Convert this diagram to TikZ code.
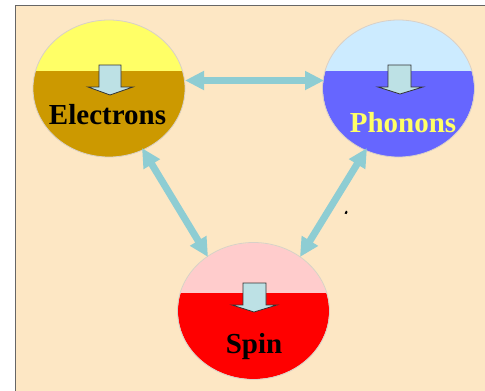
\documentclass[tikz,border=0pt]{standalone}
\usepackage{fontspec}
\setmainfont{Liberation Serif}
\usetikzlibrary{arrows.meta,shapes.geometric}
\definecolor{bg}{HTML}{FDE7C4}
\definecolor{frame}{HTML}{666666}
\definecolor{etop}{HTML}{FFFF66}
\definecolor{ebot}{HTML}{CC9900}
\definecolor{ptop}{HTML}{CCEBFF}
\definecolor{pbot}{HTML}{6666FF}
\definecolor{stop}{HTML}{FFCCCC}
\definecolor{sbot}{HTML}{FF0000}
\definecolor{linkc}{HTML}{8ECDD3}
\definecolor{downfill}{HTML}{BDE1E5}
\definecolor{rimc}{HTML}{D8D0C8}
\definecolor{phtext}{HTML}{FFFF66}
\begin{document}
\begin{tikzpicture}[x=1pt,y=-1pt,
  ball/.style={ellipse, draw=rimc, line width=0.8pt, minimum width=152pt, minimum height=137pt, inner sep=0pt},
  label/.style={font=\bfseries\fontsize{29}{29}\selectfont, anchor=base, inner sep=0pt},
  link/.style={draw=linkc, line width=7pt, {Triangle[width=18pt,length=19pt]}-{Triangle[width=18pt,length=19pt]}},
  downarrow/.style={fill=downfill, draw=black!80, line width=0.8pt, line join=miter}]
\useasboundingbox (0,0) rectangle (485,391);
\fill[white] (0,0) rectangle (485,391);
\fill[bg] (15.5,5.5) rectangle (485,391);
\draw[frame, line width=1.5pt] (15.5,391) -- (15.5,5.5) -- (485,5.5);

% Electrons
\begin{scope}
\clip (109,88.5) ellipse [x radius=76, y radius=68.5];
\fill[etop] (30,15) rectangle (190,71);
\fill[ebot] (30,71) rectangle (190,160);
\end{scope}
\node[ball] (e) at (109,88.5) {};
\draw[downarrow] (99,65) -- (121,65) -- (121,87) -- (133,87) -- (110,95) -- (88,87) -- (99,87) -- cycle;
\node[label] (et) at (107.5,124) {Electrons};

% Phonons
\begin{scope}
\clip (398.5,88.5) ellipse [x radius=75.5, y radius=68.5];
\fill[ptop] (320,15) rectangle (480,71);
\fill[pbot] (320,71) rectangle (480,160);
\end{scope}
\node[ball] (p) at (398.5,88.5) {};
\draw[downarrow] (388,65) -- (411,65) -- (411,87) -- (423,87) -- (400,94) -- (378,87) -- (388,87) -- cycle;
\node[label, text=phtext] (pt) at (403,132) {Phonons};

% Spin
\begin{scope}
\clip (253.5,311) ellipse [x radius=75.5, y radius=68];
\fill[stop] (175,240) rectangle (335,293);
\fill[sbot] (175,293) rectangle (335,382);
\end{scope}
\node[ball] (s) at (253.5,311) {};
\draw[downarrow] (243,283) -- (266,283) -- (266,305) -- (277,305) -- (254,312) -- (232,305) -- (243,305) -- cycle;
\node[label] (st) at (254,353) {Spin};

% connectors
\coordinate (ep) at (185,80.5);
\coordinate (pe) at (324,80.5);
\coordinate (es) at (142,148);
\coordinate (se) at (208,257);
\coordinate (ps) at (367,148);
\coordinate (sp) at (300,257);
\draw[link] (ep) -- (pe);
\draw[link] (es) -- (se);
\draw[link] (ps) -- (sp);

% small mark
\fill[black] (344.5,213.5) -- (346,210.5) -- (347.5,212) -- (346.5,214) -- cycle;
\end{tikzpicture}
\end{document}
